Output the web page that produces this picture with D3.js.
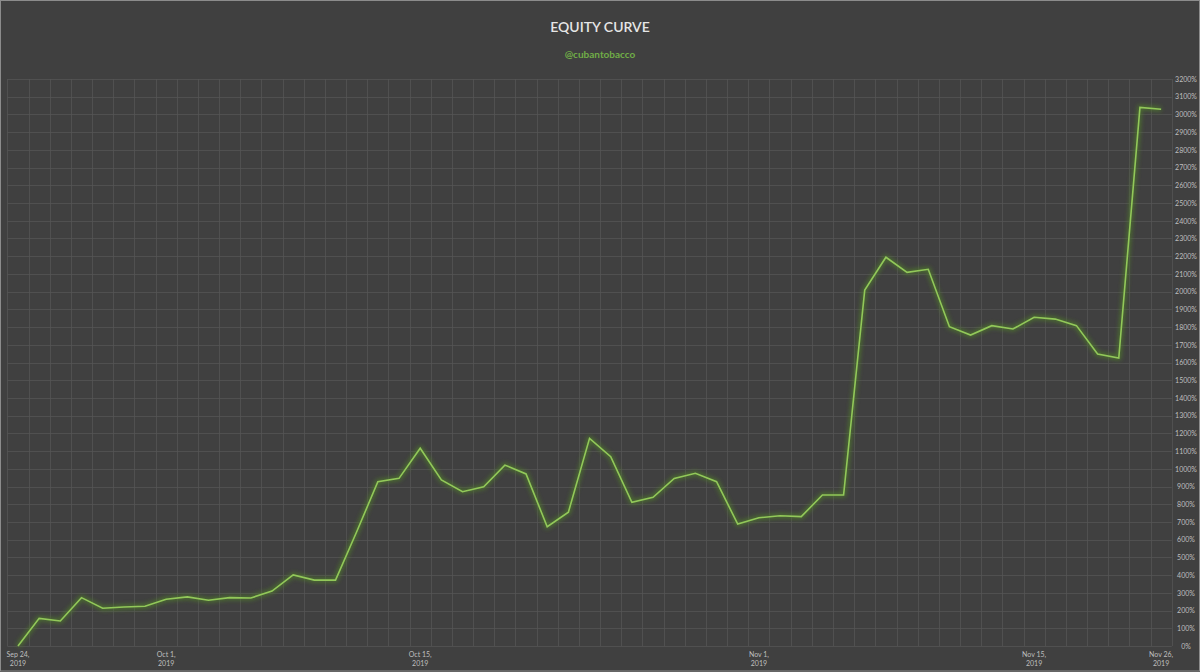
<!DOCTYPE html>
<html>
<head>
<meta charset="utf-8">
<script src="https://cdn.jsdelivr.net/npm/d3@7"></script>
<style>
  html, body { margin: 0; padding: 0; background: #404040; }
  svg { display: block; }
</style>
</head>
<body>
<svg id="chart" width="1200" height="672"></svg>
<script>
// ---- data ----
const titleText = "EQUITY CURVE";
const subtitleText = "@cubantobacco";
// equity (%) per trading point, Sep 24 2019 -> Nov 26 2019
const equity = [
  0, 156, 141, 273, 213, 220, 224, 264, 277, 258,
  273, 271, 310, 401, 372, 372, 645, 927, 946, 1116,
  937, 871, 899, 1021, 971, 673, 755, 1172, 1068, 811,
  839, 946, 975, 927, 688, 724, 735, 730, 852, 852,
  2009, 2194, 2109, 2126, 1802, 1755, 1808, 1789, 1855, 1845,
  1808, 1648, 1625, 3040, 3029
];
const categories = equity.map((d, i) => i);
const xTickIndex = [0, 7, 19, 35, 48, 54];
const xTickLabels = ["Sep 24,|2019", "Oct 1,|2019", "Oct 15,|2019", "Nov 1,|2019", "Nov 15,|2019", "Nov 26,|2019"];
const yTicks = d3.range(0, 3201, 100);

// ---- layout ----
const W = 1200, H = 672;
const plot = { left: 7.4, right: 1171.7, top: 79, bottom: 646 };
const svg = d3.select("#chart");

svg.append("rect").attr("x", 0.5).attr("y", 0.5).attr("width", W - 1).attr("height", H - 1.5)
  .attr("fill", "#404040").attr("stroke", "#8c8c8c").attr("stroke-width", 1);

const x = d3.scaleBand().domain(categories).range([plot.left, plot.right]).padding(0);
const cx = i => x(i) + x.bandwidth() / 2;
const y = d3.scaleLinear().domain([0, 3200]).range([plot.bottom, plot.top]);

// grid
const grid = svg.append("g").attr("stroke", "#565656").attr("stroke-width", 0.75);
grid.selectAll("line.h").data(yTicks).join("line")
  .attr("x1", plot.left).attr("x2", plot.right)
  .attr("y1", d => Math.round(y(d)) + 0.5).attr("y2", d => Math.round(y(d)) + 0.5);
const edges = categories.map(i => x(i)).concat([plot.right]);
grid.selectAll("line.v").data(edges).join("line")
  .attr("y1", plot.top).attr("y2", plot.bottom)
  .attr("x1", d => Math.round(d) + 0.5).attr("x2", d => Math.round(d) + 0.5);

// titles
svg.append("text").attr("x", 600).attr("y", 32).attr("text-anchor", "middle")
  .attr("font-family", "Lato, 'Open Sans', sans-serif").attr("font-size", 14).attr("font-weight", 600)
  .attr("fill", "#e6e6e6").text(titleText);
svg.append("text").attr("x", 600).attr("y", 58).attr("text-anchor", "middle")
  .attr("font-family", "Lato, 'Open Sans', sans-serif").attr("font-size", 10).attr("font-weight", "bold")
  .attr("fill", "#70ad47").text(subtitleText);

// y axis (right)
const yAxis = d3.axisRight(y).tickValues(yTicks).tickFormat(d => d + "%").tickSize(0).tickPadding(0);
const gy = svg.append("g").attr("transform", `translate(1186,0)`).call(yAxis);
gy.select(".domain").remove();
gy.selectAll("text").attr("text-anchor", "middle").attr("x", 0)
  .attr("font-family", "Lato, 'Open Sans', sans-serif").attr("font-size", 7).attr("fill", "#bfbfbf");

// x axis
const xAxis = d3.axisBottom(x).tickValues(xTickIndex).tickFormat((d) => xTickLabels[xTickIndex.indexOf(d)]).tickSize(0);
const gx = svg.append("g").attr("transform", `translate(0,${plot.bottom})`).call(xAxis);
gx.select(".domain").remove();
gx.selectAll("text").each(function(d) {
  const t = d3.select(this);
  const parts = xTickLabels[xTickIndex.indexOf(d)].split("|");
  t.text(null).attr("y", 0).attr("dy", null)
    .attr("font-family", "Lato, 'Open Sans', sans-serif").attr("font-size", 7).attr("fill", "#bfbfbf");
  t.append("tspan").attr("x", 0).attr("y", 11).text(parts[0]);
  t.append("tspan").attr("x", 0).attr("y", 20).text(parts[1]);
});

// glow filter
const defs = svg.append("defs");
const f = defs.append("filter").attr("id", "glow").attr("x", "-5%").attr("y", "-5%").attr("width", "110%").attr("height", "110%");
f.append("feGaussianBlur").attr("in", "SourceGraphic").attr("stdDeviation", 2.2).attr("result", "blur");

const line = d3.line().x((d, i) => cx(i)).y(d => y(d));
svg.append("path").datum(equity).attr("d", line).attr("fill", "none")
  .attr("stroke", "#4f7a2a").attr("stroke-width", 5).attr("stroke-linejoin", "round")
  .attr("opacity", 0.75).attr("filter", "url(#glow)");
svg.append("path").datum(equity).attr("d", line).attr("fill", "none")
  .attr("stroke", "#92c85a").attr("stroke-width", 1.6).attr("stroke-linejoin", "miter");
</script>
</body>
</html>
